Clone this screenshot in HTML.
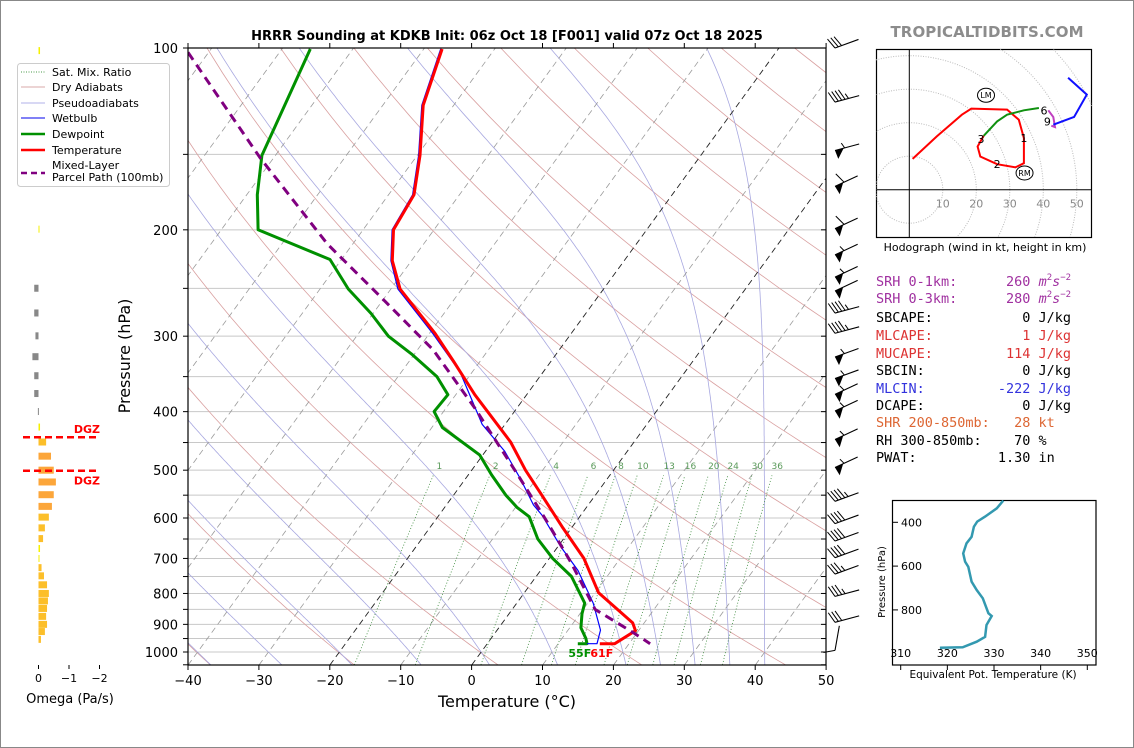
<!DOCTYPE html>
<html><head><meta charset="utf-8"><style>
html,body{margin:0;padding:0;background:#fff;}
svg{display:block;}
text{font-family:"DejaVu Sans","Liberation Sans",sans-serif;}
.mono{font-family:"DejaVu Sans Mono","Liberation Mono",monospace;font-size:13.5px;white-space:pre;}
</style></head><body>
<svg id="chart" width="1134" height="748" xmlns="http://www.w3.org/2000/svg">
<rect x="0.5" y="0.5" width="1133" height="747" fill="#fff" stroke="#888"/>
<defs><clipPath id="plotclip"><rect x="188" y="48" width="638" height="617"/></clipPath>
<clipPath id="hodoclip"><rect x="876" y="49" width="216" height="188"/></clipPath>
<clipPath id="theclip"><rect x="892" y="500" width="204" height="165"/></clipPath></defs>
<text x="507" y="40" text-anchor="middle" font-size="13" font-weight="bold">HRRR Sounding at KDKB Init: 06z Oct 18 [F001] valid 07z Oct 18 2025</text>
<text x="987" y="37" text-anchor="middle" font-size="15" font-weight="bold" fill="#8c8c8c" textLength="193">TROPICALTIDBITS.COM</text>
<g id="bg" clip-path="url(#plotclip)"></g>
<g id="series" clip-path="url(#plotclip)"></g>
<g id="axes"></g>
<g id="barbs"></g>
<g id="omega"></g>
<g id="hodo"></g>
<g id="thetae"></g>
<text x="130" y="356" transform="rotate(-90 130 356)" text-anchor="middle" font-size="16">Pressure (hPa)</text>
<text x="507" y="707" text-anchor="middle" font-size="16">Temperature (°C)</text>
<text x="70" y="703" text-anchor="middle" font-size="13">Omega (Pa/s)</text>
<g>
<rect x="17.5" y="63.5" width="152" height="123" rx="3" fill="#fff" stroke="#ccc"/>
<line x1="21" y1="72" x2="45" y2="72" stroke="#4a9a4a" stroke-dasharray="1,1.5"/>
<text x="52" y="76" font-size="11">Sat. Mix. Ratio</text>
<line x1="21" y1="87" x2="45" y2="87" stroke="#d8a8a8"/>
<text x="52" y="91" font-size="11">Dry Adiabats</text>
<line x1="21" y1="103" x2="45" y2="103" stroke="#b0b0e8"/>
<text x="52" y="107" font-size="11">Pseudoadiabats</text>
<line x1="21" y1="118" x2="45" y2="118" stroke="#0000ee"/>
<text x="52" y="122" font-size="11">Wetbulb</text>
<line x1="21" y1="134" x2="45" y2="134" stroke="#009000" stroke-width="2.5"/>
<text x="52" y="138" font-size="11">Dewpoint</text>
<line x1="21" y1="150" x2="45" y2="150" stroke="#ff0000" stroke-width="2.5"/>
<text x="52" y="154" font-size="11">Temperature</text>
<line x1="21" y1="173" x2="45" y2="173" stroke="#800080" stroke-width="2.5" stroke-dasharray="6,4"/>
<text x="52" y="169" font-size="11">Mixed-Layer</text>
<text x="52" y="181" font-size="11">Parcel Path (100mb)</text>
</g>
<g>
<text class="mono" x="876" y="286" fill="#a030a0">SRH 0-1km:      260 <tspan font-style="italic">m</tspan><tspan font-size="9" dy="-6">2</tspan><tspan font-style="italic" dy="6">s</tspan><tspan font-size="9" dy="-6">−2</tspan></text>
<text class="mono" x="876" y="303" fill="#a030a0">SRH 0-3km:      280 <tspan font-style="italic">m</tspan><tspan font-size="9" dy="-6">2</tspan><tspan font-style="italic" dy="6">s</tspan><tspan font-size="9" dy="-6">−2</tspan></text>
<text class="mono" x="876" y="322" fill="#000">SBCAPE:           0 J/kg</text>
<text class="mono" x="876" y="340" fill="#dd3333">MLCAPE:           1 J/kg</text>
<text class="mono" x="876" y="358" fill="#dd3333">MUCAPE:         114 J/kg</text>
<text class="mono" x="876" y="375" fill="#000">SBCIN:            0 J/kg</text>
<text class="mono" x="876" y="393" fill="#3333dd">MLCIN:         -222 J/kg</text>
<text class="mono" x="876" y="410" fill="#000">DCAPE:            0 J/kg</text>
<text class="mono" x="876" y="427" fill="#dd6633">SHR 200-850mb:   28 kt</text>
<text class="mono" x="876" y="445" fill="#000">RH 300-850mb:    70 %</text>
<text class="mono" x="876" y="462" fill="#000">PWAT:          1.30 in</text>
</g>
</svg>
<script>
// ===== data =====
const tempP = [100.4,124.4,150.6,175,200,225,250.6,296.8,331,375,449,500,545,623,700,798,895,922,969,969];
const tempT = [-67.4,-64.3,-59.6,-56.4,-55.7,-52.7,-48.7,-39.2,-33.6,-27.3,-17.4,-12.4,-8.0,-1.2,4.9,10.5,18.4,19.6,18.0,15.9];
const dewP = [100.4,150.6,175,200,224,250.6,275,300,322,350,375,400,425,472,509,550,576,597,650,700,750,830,864,912,950,969,969];
const dewT = [-86,-81.9,-78.5,-74.8,-61.6,-56,-50.3,-45.5,-40.2,-34.5,-31.1,-31.3,-28.5,-20.4,-16.7,-12.6,-9.8,-7.1,-3.6,0.5,5.0,9.6,10.3,11.6,13.4,14.1,12.8];
const wbP = [100.4,124.4,150.6,175,200,225,250.6,297,344,420,465,517,571,594,669,733,830,920,969,969];
const wbT = [-67.6,-64.5,-59.8,-56.6,-55.9,-52.9,-49,-39.5,-31.7,-23.2,-17.3,-12.2,-7.7,-5.4,0.4,5.3,10.8,14.6,15.5,14.1];
const parcelP = [101.7,152,211,260,316,394,505,607,711,850,928,969];
const parcelT = [-102.9,-81.9,-63.6,-50.2,-37.8,-26,-13.4,-4.2,3.5,11.7,19.4,23.0];
const mixRatios = [1,2,4,6,8,10,13,16,20,24,30,36];
const pressTickLabels = [100,200,300,400,500,600,700,800,900,1000];
const tempTickLabels = [-40,-30,-20,-10,0,10,20,30,40,50];
const barbP = [100,122.9,147.8,169.5,199.1,220,239.5,252.5,274.7,296.7,324.8,352.5,374.5,399,444.8,495,563,613,655,698,743,809,893,994];
const barbSpd = [30,45,55,60,60,55,55,50,45,45,55,55,55,55,55,55,45,40,40,40,35,35,30,10];
const barbDir = [20,15,15,25,25,25,25,25,15,15,20,20,25,25,25,25,20,20,20,20,20,15,15,80];
const omegaP = [101,124.7,149.6,199.5,249.9,274.6,299.6,324.4,348.8,373.3,399.8,424.2,449.1,474,500,523,549,574,598,623,649,674,700,725,748,774,800,823,847,873,900,925,953];
const omegaW = [-0.05,-0.13,-0.1,-0.03,0.14,0.14,0.1,0.2,0.14,0.14,0.02,-0.05,-0.25,-0.41,-0.5,-0.57,-0.5,-0.44,-0.34,-0.21,-0.15,-0.05,-0.02,-0.1,-0.18,-0.28,-0.34,-0.31,-0.28,-0.25,-0.28,-0.21,-0.08];
const omegaTicks = [0,-1,-2];
const dgzP = [441,501];
const hodoRedU = [1,8.2,15.7,18.5,29.2,32.7,34.2,34.2,31.7,26.2,21.2,20.4,22.2];
const hodoRedV = [9.2,15.9,22.4,24.2,23.9,20.9,15.4,7.9,6.7,7.6,9.9,12.9,16.1];
const hodoGreenU = [22.2,26.2,29.2,34.2,38.7];
const hodoGreenV = [16.1,20.4,22.4,23.7,24.4];
const hodoPurpleU = [41.5,43,43.5,42.4];
const hodoPurpleV = [23.7,21.7,18.7,19.1];
const hodoBlueU = [43,49.2,53,47.4];
const hodoBlueV = [19.4,21.7,28.4,33.4];
const hodoRings = [10,20,30,40,50,60];
const hodoLabels = ["1","2","3","6","9"];
const hodoLabelU = [34.2,26.2,21.4,40.2,41.2];
const hodoLabelV = [15.4,7.7,15.2,23.6,20.4];
const stormLabels = ["LM","RM"];
const stormU = [22.9,34.4];
const stormV = [28.2,5];
const thetaK = [332.0,330.6,328.1,326.4,325.7,325.2,324.1,323.4,323.8,324.5,325.2,326.3,327.6,328.8,329.5,328.4,328.1,326.3,323.3,318.4];
const thetaP = [301,336,374,397,420,466,496,542,580,603,671,709,747,815,828,869,923,945,971,973];
const thetaXTicks = [310,320,330,340,350];
const thetaYTicks = [400,600,800];

// ===== axes functions =====
const NS='http://www.w3.org/2000/svg';
function yP(p){return 48+604*Math.log10(p/100);}
function xT(T,p){return 188+(T+40)*7.09+(665-yP(p))*0.728;}
function mk(parent,tag,attrs){const e=document.createElementNS(NS,tag);for(const k in attrs)e.setAttribute(k,attrs[k]);document.getElementById(parent).appendChild(e);return e;}
function pathFrom(ps,ts){return ps.map((p,i)=>(i?'L':'M')+xT(ts[i],p).toFixed(1)+' '+yP(p).toFixed(1)).join(' ');}

// background: pressure lines
for(let p=150;p<=1000;p+=50){const l=mk('bg','line',{x1:188,x2:826,y1:yP(p),y2:yP(p),stroke:'#c8c8c8','stroke-width':1});

}
// dry adiabats
for(let th=233;th<=500;th+=20){let d='';for(let p=1050;p>=100;p-=10){const T=th*Math.pow(p/1000,0.2857)-273.15;d+=(p===1050?'M':'L')+xT(T,p).toFixed(1)+' '+yP(p).toFixed(1);}
const e=mk('bg','path',{d:d,fill:'none',stroke:'#d9a0a0','stroke-width':0.8});

}
// moist adiabats
const Rd=287.04,Cp=1005.7,Lv=2.501e6,eps=0.622;
function rs(Tk,p){const tc=Tk-273.15;const es=6.112*Math.exp(17.67*tc/(tc+243.5));return eps*es/(p-es);}
function dTdp(Tk,p){const r=rs(Tk,p);return (Rd*Tk+Lv*r)/(p*(Cp+Lv*Lv*r*eps/(Rd*Tk*Tk)));}
function moist(t0){const up=[];let T=t0+273.15;for(let p=1000;p>=100;p-=2){up.push([p,T]);const k1=dTdp(T,p);const k2=dTdp(T-2*k1,p-2);T=T-2*(k1+k2)/2;}
const dn=[];T=t0+273.15;for(let p=1000;p<=1050;p+=2){dn.push([p,T]);const k1=dTdp(T,p);const k2=dTdp(T+2*k1,p+2);T=T+2*(k1+k2)/2;}
return dn.reverse().concat(up);}
for(const t0 of [-60,-50,-40,-30,-20,-10,0,10,20,25,30,35,40]){const pts=moist(t0);const d=pts.map((q,i)=>(i?'L':'M')+xT(q[1]-273.15,q[0]).toFixed(1)+' '+yP(q[0]).toFixed(1)).join(' ');
const e=mk('bg','path',{d:d,fill:'none',stroke:'#a8a8e0','stroke-width':0.8});

}
// isotherms
for(let T=-130;T<=50;T+=10){const blk=(T===0||T===-20);const e=mk('bg','line',{x1:xT(T,1050),y1:665,x2:xT(T,100),y2:48,stroke:blk?'#222':'#9a9a9a','stroke-width':blk?0.9:0.8,'stroke-dasharray':'6,4'});

}
// mixing ratio lines
function tdOf(w,p){const e=w*p/(622+w);const l=Math.log(e/6.112);return 243.5*l/(17.67-l);}
mixRatios.forEach(w=>{let d='';for(let p=1050;p>=510;p-=10){d+=(p===1050?'M':'L')+xT(tdOf(w,p),p).toFixed(1)+' '+yP(p).toFixed(1);}
const e=mk('bg','path',{d:d,fill:'none',stroke:'#3a8a3a','stroke-width':0.8,'stroke-dasharray':'1,2'});


const t=mk('bg','text',{x:xT(tdOf(w,500),490),y:yP(490)+4,'font-size':9,fill:'#5a9a5a','text-anchor':'middle'});t.textContent=w;

});

// series
function series(ps,ts,color,width,dash,name){const e=mk('series','path',{d:pathFrom(ps,ts),fill:'none',stroke:color,'stroke-width':width,'stroke-linejoin':'round'});if(dash)e.setAttribute('stroke-dasharray',dash);

}
series(dewP,dewT,'#009000',3,null,'dewpoint-line');
series(wbP,wbT,'#0000ff',1.2,null,'wetbulb-line');
series(tempP,tempT,'#ff0000',3,null,'temperature-line');
series(parcelP,parcelT,'#800080',3,'9,6','parcel-path-line');
{const t=mk('series','text',{x:xT(dewT[dewT.length-1],969)+2,y:657,'font-size':11,'font-weight':'bold',fill:'#009000','text-anchor':'middle'});t.textContent='55F';


const t2=mk('series','text',{x:xT(tempT[tempT.length-1],969)+2,y:657,'font-size':11,'font-weight':'bold',fill:'#ff0000','text-anchor':'middle'});t2.textContent='61F';

}

// axes frame and ticks
{const f=mk('axes','rect',{x:188,y:48,width:638,height:617,fill:'none',stroke:'#000','stroke-width':1.2});

}
for(let p=100;p<=1050;p+=50){const y=yP(p);mk('axes','line',{x1:183,x2:188,y1:y,y2:y,stroke:'#000'});mk('axes','line',{x1:821,x2:826,y1:y,y2:y,stroke:'#000'});}
pressTickLabels.forEach(p=>{const t=mk('axes','text',{x:178,y:yP(p)+5,'font-size':13,'text-anchor':'end'});t.textContent=p;

});
tempTickLabels.forEach(T=>{const x=188+(T+40)*7.09;mk('axes','line',{x1:x,x2:x,y1:665,y2:670,stroke:'#000'});mk('axes','line',{x1:x,x2:x,y1:43,y2:48,stroke:'#000'});
const t=mk('axes','text',{x:x,y:685,'font-size':13,'text-anchor':'middle'});t.textContent=String(T).replace('-','\u2212');

});

// wind barbs
barbP.forEach((p,i)=>{const y=yP(p);const a=barbDir[i]*Math.PI/180;const ex=835,ey=y;const L=25;const ux=Math.cos(a),uy=-Math.sin(a);const sx=ex+L*ux,sy=ey+L*uy;
const g=mk('barbs','g',{});


const ln=document.createElementNS(NS,'line');ln.setAttribute('x1',ex);ln.setAttribute('y1',ey);ln.setAttribute('x2',sx);ln.setAttribute('y2',sy);ln.setAttribute('stroke','#000');ln.setAttribute('stroke-width','1.1');g.appendChild(ln);
let s=Math.round(barbSpd[i]/5)*5;let pos=0;const px=-uy,py=ux;
const nx=uy,ny=-ux;
while(s>=50){const pg=document.createElementNS(NS,'polygon');const bx=ex+pos*ux,by=ey+pos*uy;pg.setAttribute('points',`${bx},${by} ${bx+9*ux},${by+9*uy} ${bx+1*ux+9*px},${by+1*uy+9*py}`);pg.setAttribute('fill','#000');g.appendChild(pg);pos+=10;s-=50;}
while(s>=10){const b=document.createElementNS(NS,'line');const bx=ex+pos*ux,by=ey+pos*uy;b.setAttribute('x1',bx);b.setAttribute('y1',by);b.setAttribute('x2',bx-4*ux+11*nx);b.setAttribute('y2',by-4*uy+11*ny);b.setAttribute('stroke','#000');g.appendChild(b);pos+=3.5;s-=10;}
if(s>=5){const b=document.createElementNS(NS,'line');const bx=ex+pos*ux,by=ey+pos*uy;b.setAttribute('x1',bx);b.setAttribute('y1',by);b.setAttribute('x2',bx-2*ux+5.5*nx);b.setAttribute('y2',by-2*uy+5.5*ny);b.setAttribute('stroke','#000');g.appendChild(b);}
});

// omega panel
const ox0=38.5, oscale=30.5;
omegaP.forEach((p,i)=>{const w=omegaW[i];const y=yP(p);const x1=ox0,x2=ox0-w*oscale;const aw=Math.abs(w);
let c=w>0?'#888':(aw<0.06?'#f5f000':(aw<0.36?'#fcbf2a':'#fca63a'));
const r=mk('omega','rect',{x:Math.min(x1,x2),y:y-3.5,width:Math.max(1,Math.abs(x2-x1)),height:7,fill:c});

});
dgzP.forEach((p,i)=>{const y=yP(p);const l=mk('omega','line',{x1:23,x2:99,y1:y,y2:y,stroke:'#ff0000','stroke-width':2.5,'stroke-dasharray':'7,4'});


const t=mk('omega','text',{x:100,y:i===0?y-4:y+14,'font-size':11,'font-weight':'bold',fill:'#ff0000','text-anchor':'end'});t.textContent='DGZ';

});
omegaTicks.forEach(v=>{const x=ox0-v*oscale;mk('omega','line',{x1:x,x2:x,y1:665,y2:669,stroke:'#000'});
const t=mk('omega','text',{x:x,y:682,'font-size':11,'text-anchor':'middle'});t.textContent=String(v).replace('-','\u2212');

});

// hodograph
const hx0=909.3,hy0=189.7,hs=3.35;
function hx(u){return hx0+u*hs;} function hy(v){return hy0-v*hs;}
{const f=mk('hodo','rect',{x:876.5,y:49.5,width:215,height:188,fill:'#fff',stroke:'#000','stroke-width':1.2});

}
const hg=mk('hodo','g',{'clip-path':'url(#hodoclip)'});
hodoRings.forEach(r=>{const c=document.createElementNS(NS,'circle');c.setAttribute('cx',hx0);c.setAttribute('cy',hy0);c.setAttribute('r',r*hs);c.setAttribute('fill','none');c.setAttribute('stroke','#bbb');c.setAttribute('stroke-dasharray','1,1.5');

hg.appendChild(c);});
mk('hodo','line',{x1:hx0,x2:hx0,y1:49.5,y2:237.5,stroke:'#000','stroke-width':1});
mk('hodo','line',{x1:876.5,x2:1091.5,y1:hy0,y2:hy0,stroke:'#000','stroke-width':1});
hodoRings.slice(0,5).forEach(r=>{const t=mk('hodo','text',{x:hx(r),y:hy0+18,'font-size':11,fill:'#888','text-anchor':'middle'});t.textContent=r;

});
function hline(U,V,c,name){const e=mk('hodo','path',{d:U.map((u,i)=>(i?'L':'M')+hx(u).toFixed(1)+' '+hy(V[i]).toFixed(1)).join(' '),fill:'none',stroke:c,'stroke-width':2});

}
hline(hodoRedU,hodoRedV,'#ff0000','hodograph-0-3km');
hline(hodoGreenU,hodoGreenV,'#109010','hodograph-3-6km');
hline(hodoPurpleU,hodoPurpleV,'#c040c0','hodograph-6-9km');
hline(hodoBlueU,hodoBlueV,'#1010ff','hodograph-9km-up');
hodoLabels.forEach((s,i)=>{const t=mk('hodo','text',{x:hx(hodoLabelU[i]),y:hy(hodoLabelV[i])+4,'font-size':11,'text-anchor':'middle'});t.textContent=s;

});
stormLabels.forEach((s,i)=>{const c=mk('hodo','ellipse',{cx:hx(stormU[i]),cy:hy(stormV[i]),rx:8.5,ry:7,fill:'#fff',stroke:'#000'});


const t=mk('hodo','text',{x:hx(stormU[i]),y:hy(stormV[i])+3,'font-size':8,'text-anchor':'middle'});t.textContent=s;

});
{const t=mk('hodo','text',{x:985,y:251,'font-size':11,'text-anchor':'middle'});t.textContent='Hodograph (wind in kt, height in km)';

}

// theta-e panel
function tx(k){return 900.7+(k-310)*4.665;} function ty(p){return 522.3+(p-400)*0.219;}
{const f=mk('thetae','rect',{x:892.5,y:500.5,width:203.5,height:164.5,fill:'#fff',stroke:'#000','stroke-width':1.2});

}
{const e=mk('thetae','path',{d:thetaK.map((k,i)=>(i?'L':'M')+tx(k).toFixed(1)+' '+ty(thetaP[i]).toFixed(1)).join(' '),fill:'none',stroke:'#3399b0','stroke-width':2.5,'clip-path':'url(#theclip)'});

}
thetaXTicks.forEach(k=>{mk('thetae','line',{x1:tx(k),x2:tx(k),y1:665,y2:670,stroke:'#000'});
const t=mk('thetae','text',{x:tx(k),y:657,'font-size':11,'text-anchor':'middle'});t.textContent=k;

});
thetaYTicks.forEach(p=>{mk('thetae','line',{x1:892.5,x2:898,y1:ty(p),y2:ty(p),stroke:'#000'});
const t=mk('thetae','text',{x:901,y:ty(p)+4,'font-size':11});t.textContent=p;

});
{const t=mk('thetae','text',{x:885,y:582,'font-size':10,'text-anchor':'middle',transform:'rotate(-90 885 582)'});t.textContent='Pressure (hPa)';


const t2=mk('thetae','text',{x:993,y:678,'font-size':10.5,'text-anchor':'middle'});t2.textContent='Equivalent Pot. Temperature (K)';

}
</script>
</body></html>
